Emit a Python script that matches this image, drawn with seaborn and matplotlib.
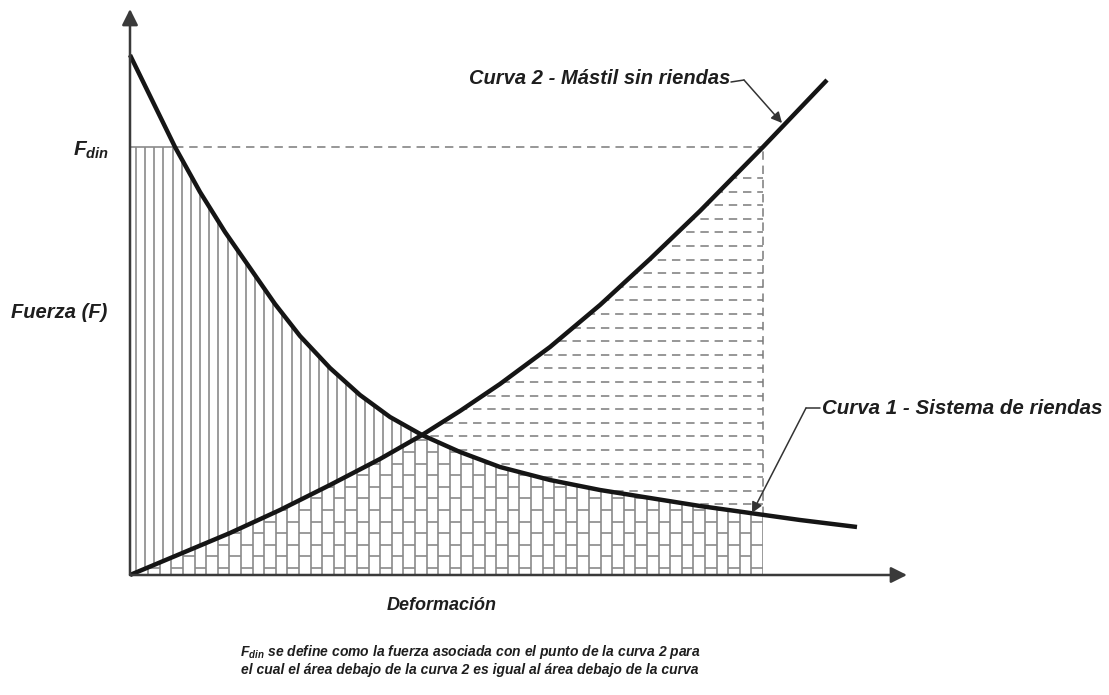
import numpy as np
import matplotlib
matplotlib.use("Agg")
import matplotlib.pyplot as plt
from matplotlib.path import Path
from matplotlib.collections import LineCollection
import seaborn as sns

# Curve 1 - guy system (decreasing)
curve1_x = [0.00, 0.22, 0.45, 0.70, 0.95, 1.20, 1.45, 1.70, 2.00, 2.30, 2.60,
            2.92, 3.30, 3.70, 4.20, 4.70, 5.20, 5.70, 6.20, 6.70, 7.27]
curve1_y = [5.20, 4.75, 4.28, 3.83, 3.43, 3.07, 2.71, 2.39, 2.07, 1.80, 1.58,
            1.40, 1.23, 1.08, 0.95, 0.85, 0.77, 0.69, 0.62, 0.55, 0.48]

# Curve 2 - mast without guys (increasing)
curve2_x = [0.00, 0.50, 1.00, 1.50, 2.00, 2.50, 2.92, 3.30, 3.70, 4.20, 4.70,
            5.20, 5.70, 6.33, 6.97]
curve2_y = [0.00, 0.21, 0.42, 0.65, 0.90, 1.16, 1.40, 1.64, 1.91, 2.28, 2.70,
            3.16, 3.64, 4.28, 4.95]

f_din = 4.28      # force level F_din
x_end = 6.33      # deformation where curve 2 reaches F_din
x_cross = 2.92    # intersection of the two curves

label_c1 = "Curva 1 - Sistema de riendas"
label_c2 = "Curva 2 - Mástil sin riendas"
xlabel = "Deformación"
ylabel = "Fuerza (F)"
caption = ["$F_{din}$ se define como la fuerza asociada con el punto de la curva 2 para",
           "el cual el área debajo de la curva 2 es igual al área debajo de la curva"]

sns.set_theme(style="white")
plt.rcParams["font.family"] = ["Liberation Sans", "DejaVu Sans"]
plt.rcParams["mathtext.fontset"] = "custom"
plt.rcParams["mathtext.it"] = "Liberation Sans:italic:bold"
plt.rcParams["mathtext.rm"] = "Liberation Sans:italic:bold"

HATCH = "#8a8a8a"
DASH = "#7a7a7a"
TXT = "#1e1e1e"

fig = plt.figure(figsize=(11.09, 6.95), dpi=100)
ax = fig.add_axes([0, 0, 1, 1])
ax.set_xlim(-1.30, 9.79)
ax.set_ylim(-1.20, 5.75)
ax.axis("off")


def region(xs, lower, upper):
    verts = np.column_stack([np.r_[xs, xs[::-1]], np.r_[lower, upper[::-1]]])
    return Path(verts, closed=True)


def c1(x):
    return np.interp(x, curve1_x, curve1_y)


def c2(x):
    return np.interp(x, curve2_x, curve2_y)


# vertical hatch: between curve 2 and curve 1 (capped at F_din), left of the crossing
xa = np.linspace(0, x_cross, 300)
p_vert = region(xa, c2(xa), np.minimum(c1(xa), f_din))
vx = np.arange(0.06, x_cross, 0.0915)
lc = ax.vlines(vx, 0, f_din, colors=HATCH, lw=1.2)
lc.set_clip_path(p_vert, ax.transData)

# dashed horizontal hatch: between curve 1 and curve 2, right of the crossing
xb = np.linspace(x_cross, x_end, 300)
p_dash = region(xb, c1(xb), np.minimum(c2(xb), f_din))
hy = np.arange(3.97, 0.3, -0.136)
lc = ax.hlines(hy, x_cross - 0.2, x_end, colors=DASH, lw=1.1, linestyles=(0, (5.5, 3.8)))
lc.set_clip_path(p_dash, ax.transData)

# brick hatch: below both curves
xc = np.linspace(0, x_end, 400)
p_brick = region(xc, np.zeros_like(xc), np.minimum(c1(xc), c2(xc)))
bw, bh = 0.116, 0.232
cols = np.arange(x_end, -bw, -bw)
lc = ax.vlines(cols[cols >= 0], 0, 2, colors=HATCH, lw=1.2)
lc.set_clip_path(p_brick, ax.transData)
segs = []
for k, xr in enumerate(cols):
    off = 0.07 if k % 2 == 0 else 0.186
    for y in np.arange(off, 1.6, bh):
        segs.append([(max(xr - bw, 0), y), (xr, y)])
lc = LineCollection(segs, colors=HATCH, lw=1.2)
ax.add_collection(lc)
lc.set_clip_path(p_brick, ax.transData)

# F_din box outline
ax.plot([0, 0.45], [f_din, f_din], color=HATCH, lw=1.2)
ax.hlines(f_din, 0.45, x_end, colors=DASH, lw=1.1, linestyles=(0, (5.5, 3.8)))
ax.vlines(x_end, c1(x_end), f_din, colors=DASH, lw=1.1, linestyles=(0, (5.5, 3.8)))

# axes with arrows
arrow = dict(arrowstyle="-|>", color="#3a3a3a", lw=1.8, mutation_scale=24,
             shrinkA=0, shrinkB=0)
ax.annotate("", xy=(7.77, 0), xytext=(0, 0), arrowprops=arrow)
ax.annotate("", xy=(0, 5.66), xytext=(0, 0), arrowprops=arrow)

# the two curves
for cx, cy in [(curve1_x, curve1_y), (curve2_x, curve2_y)]:
    sns.lineplot(x=cx, y=cy, ax=ax, color="#151515", lw=3.2, sort=False,
                 estimator=None, solid_joinstyle="round", solid_capstyle="butt")

# leaders
lead = dict(arrowstyle="-|>", color="#333333", lw=1.1, mutation_scale=16,
            shrinkA=0, shrinkB=0)
ax.plot([6.01, 6.14], [4.93, 4.95], color="#333333", lw=1.1)
ax.annotate("", xy=(6.52, 4.52), xytext=(6.14, 4.95), arrowprops=lead)
ax.plot([6.90, 6.76], [1.67, 1.67], color="#333333", lw=1.1)
ax.annotate("", xy=(6.22, 0.62), xytext=(6.76, 1.67), arrowprops=lead)

tstyle = dict(color=TXT, fontweight="bold", fontstyle="italic")
ax.text(6.00, 4.97, label_c2, ha="right", va="center", fontsize=14.5, **tstyle)
ax.text(6.92, 1.67, label_c1, ha="left", va="center", fontsize=14.8, **tstyle)
ax.text(-0.57, 4.25, "$F_{din}$", ha="left", va="center", fontsize=15, **tstyle)
ax.text(-1.19, 2.63, ylabel, ha="left", va="center", fontsize=14.5, **tstyle)
ax.text(3.12, -0.31, xlabel, ha="center", va="center", fontsize=13, **tstyle)
ax.text(3.40, -0.77, caption[0], ha="center", va="center", fontsize=10, **tstyle)
ax.text(3.40, -0.95, caption[1], ha="center", va="center", fontsize=10, **tstyle)

fig.savefig("out.png", dpi=100)
